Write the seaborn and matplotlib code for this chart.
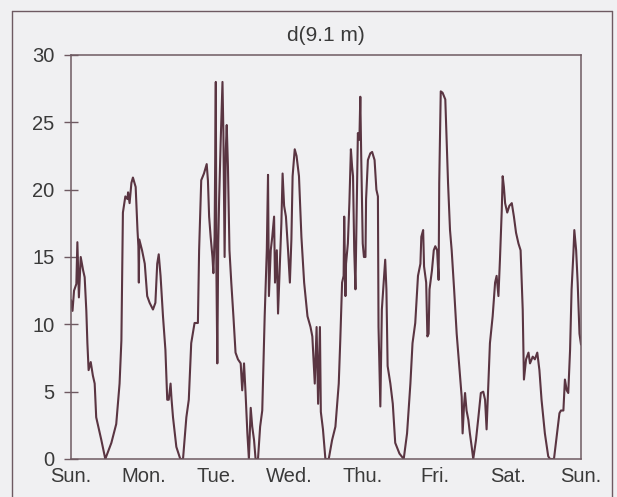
import matplotlib
matplotlib.use("Agg")
import matplotlib.pyplot as plt
from matplotlib.lines import Line2D
import seaborn as sns
import pandas as pd

# Time axis in hours from Sunday 00:00, one week long
hours = [
    0.0, 0.5, 1.0, 1.76, 2.1, 2.6, 3.2, 4.0, 4.5, 5.05, 5.4, 5.8, 6.5, 7.2, 7.8, 8.3,
    10.0, 11.3, 13.3, 14.9, 16.0, 16.6, 17.1, 17.9, 18.6, 18.8, 19.3, 19.9, 20.4, 21.3,
    21.9, 22.2, 22.35, 22.5, 23.4, 24.3, 25.1, 25.9, 27.0, 27.8, 28.4, 28.9, 29.5, 30.3,
    31.1, 31.7, 32.2, 32.8, 33.1, 33.6, 34.7, 36.0, 36.9, 38.0, 38.8, 39.6, 40.7, 41.8,
    42.2, 42.9, 43.8, 44.7, 45.1, 45.5, 46.0, 46.6, 46.9, 47.3, 47.7, 47.9, 48.2, 48.5,
    48.8, 49.3, 49.9, 50.2, 50.6, 51.0, 51.3, 51.7, 52.2, 52.8, 53.5, 54.2, 55.0, 55.9,
    56.4, 57.0, 57.5, 58.1, 58.6, 59.2, 59.7, 60.3, 60.8, 61.6, 62.3, 63.0, 63.8, 64.5,
    64.9, 65.2, 65.8, 66.3, 66.9, 67.2, 67.8, 68.2, 68.8, 69.3, 69.7, 70.2, 70.8, 71.5,
    72.1, 72.6, 73.0, 73.7, 74.3, 75.1, 75.9, 76.8, 77.9, 78.9, 79.5, 80.3, 80.9, 81.4,
    82.0, 82.3, 83.0, 83.8, 84.9,
    86.0, 87.1, 88.2, 88.7, 89.3, 89.8, 90.0, 90.4, 90.6, 91.2, 91.7, 92.2, 92.6, 92.9,
    93.3, 93.7, 94.1, 94.5, 95.0, 95.3, 95.6, 96.1, 96.5, 97.0, 97.2, 97.8, 98.6, 99.2,
    100.0, 100.6, 101.1, 101.3, 101.9, 102.4, 103.0, 103.5, 103.9, 104.3, 105.2, 106.0,
    106.8, 108.2, 109.6, 110.7, 111.8, 112.5, 113.4, 114.3, 115.1, 115.4, 116.0, 116.3,
    117.0, 117.4, 117.8, 118.1, 118.9, 119.5, 120.0, 120.6, 121.1, 121.3, 121.8, 122.4,
    123.3, 124.2,
    124.85, 125.4, 126.2, 127.05, 127.9, 128.7, 129.0, 129.5, 129.8, 130.3, 130.9, 131.4,
    132.0, 132.5, 133.4, 134.2, 135.0, 135.8, 136.4, 136.9, 137.5, 138.0, 138.9, 139.7,
    140.2, 140.8, 141.3, 141.9, 142.2, 142.6, 143.0, 143.7, 144.4, 145.2, 145.9, 146.6,
    147.4, 148.1, 148.8, 149.2, 149.9, 150.7, 151.2, 152.1, 152.8, 153.6, 154.3, 155.0,
    156.1, 157.2, 157.8, 159.1, 160.0, 160.9, 161.4, 162.2, 162.7, 163.3, 163.8, 164.4,
    164.9, 165.5, 165.8, 166.4, 166.9, 167.5, 168.0,
]

# Reading at 9.1 m for each time step
values = [
    11.8, 11.0, 12.5, 13.0, 16.1, 12.0, 15.0, 14.0, 13.5, 11.0, 8.6, 6.6, 7.2, 6.2, 5.6, 3.1,
    1.4, 0.0, 1.2, 2.6, 5.6, 8.8, 18.3, 19.5, 19.3, 19.8, 19.0, 20.5, 20.9, 20.2,
    17.0, 15.8, 13.1, 16.3, 15.5, 14.5, 12.1, 11.6, 11.1, 11.6, 14.5, 15.2, 13.6, 10.6,
    8.1, 4.4, 4.4, 5.6, 4.5, 3.1, 0.9, 0.0, 0.0, 3.1, 4.4, 8.6, 10.1, 10.1,
    15.5, 20.7, 21.2, 21.9, 20.7, 18.0, 16.5, 15.0, 13.8, 16.5, 28.0, 14.0, 7.1, 16.0,
    19.3, 23.5, 28.0, 24.2, 15.0, 23.0, 24.8, 21.7, 15.5, 13.1, 10.6, 7.9, 7.4, 7.1,
    5.1, 7.1, 4.9, 1.9, 0.0, 3.8, 2.4, 1.4, 0.0, 0.0, 2.4, 3.6, 10.6, 15.5,
    21.1, 12.1, 15.5, 16.5, 18.0, 13.1, 15.5, 10.8, 14.5, 17.5, 21.2, 18.8, 18.0, 15.5,
    13.1, 16.3, 21.0, 23.0, 22.5, 21.0, 16.5, 13.1, 10.6, 9.8, 9.1, 5.6, 9.8, 4.1,
    9.8, 3.5, 2.2, 0.0, 0.0,
    1.4, 2.4, 5.6, 8.8, 13.1, 13.6, 18.0, 12.1, 14.5, 16.0, 19.0, 23.0, 21.7, 21.0,
    15.5, 12.6, 18.5, 24.2, 23.7, 26.9, 22.5, 16.0, 15.0, 15.0, 19.3, 22.2, 22.7, 22.8,
    22.2, 20.0, 19.5, 9.8, 3.9, 11.1, 13.1, 14.8, 12.6, 6.9, 5.6, 4.1,
    1.2, 0.4, 0.0, 1.9, 5.6, 8.6, 10.1, 13.6, 14.5, 16.5, 17.0, 14.3,
    13.1, 9.1, 9.3, 12.6, 14.0, 15.5, 15.8, 15.5, 13.3, 20.5, 27.3, 27.2,
    26.7, 20.5,
    17.0, 15.5, 12.6, 9.3, 6.9, 4.6, 1.9, 4.1, 4.9, 3.6, 2.9, 1.9,
    0.9, 0.0, 1.4, 3.1, 4.9, 5.0, 4.4, 2.2, 5.6, 8.6, 10.6, 13.1,
    13.6, 12.1, 14.8, 18.5, 21.0, 20.2, 19.0, 18.3, 18.8, 19.0, 18.0, 16.8,
    16.0, 15.5, 11.1, 5.9, 7.4, 7.9, 7.1, 7.6, 7.4, 7.9, 6.6, 4.4,
    1.9, 0.2, 0.0, 0.0, 1.7, 3.4, 3.6, 3.6, 5.9, 5.1, 4.9, 8.1,
    12.6, 15.3, 17.0, 15.5, 13.1, 9.3, 8.5,
]

day_labels = ["Sun.", "Mon.", "Tue.", "Wed.", "Thu.", "Fri.", "Sat.", "Sun."]
day_ticks = [0, 24, 48, 72, 96, 120, 144, 168]
y_ticks = [0, 5, 10, 15, 20, 25, 30]
title = "d(9.1 m)"

paper = "#f0f0f2"
ink = "#5a3542"
frame = "#6e5a62"
text_col = "#3a3a3a"

sns.set_theme(style="white")
plt.rcParams["font.family"] = ["Liberation Sans", "DejaVu Sans"]

fig = plt.figure(figsize=(6.17, 4.97), dpi=100, facecolor=paper)
ax = fig.add_axes([71 / 617, 38 / 497, 510 / 617, 404 / 497])
ax.set_facecolor(paper)

df = pd.DataFrame({"hour": hours, "value": values})
sns.lineplot(data=df, x="hour", y="value", ax=ax, color=ink, linewidth=1.5,
             estimator=None, sort=False)

ax.set_xlim(0, 168)
ax.set_ylim(0, 30)
ax.set_xticks(day_ticks)
ax.set_xticklabels(day_labels)
ax.set_yticks(y_ticks)
ax.set_xlabel("")
ax.set_ylabel("")
ax.set_title(title, fontsize=15, color=text_col, pad=10)

ax.tick_params(axis="x", bottom=False, length=0, pad=6, labelsize=14.5, labelcolor=text_col)
ax.tick_params(axis="y", left=True, direction="inout", length=10, width=1.0, color=frame,
               pad=7, labelsize=14.5, labelcolor=text_col)

for side in ["left", "right", "top", "bottom"]:
    ax.spines[side].set_visible(True)
    ax.spines[side].set_color(frame)
    ax.spines[side].set_linewidth(1.1)

# Outer border around the panel
x0, x1 = 12 / 617, 612 / 617
ytop = 1 - 11 / 497
for xs, ys in [([x0, x0], [0, ytop]), ([x0, x1], [ytop, ytop]), ([x1, x1], [ytop, 0])]:
    fig.add_artist(Line2D(xs, ys, transform=fig.transFigure, color=frame, linewidth=1.0))

fig.savefig("out.png", dpi=100, facecolor=paper)
